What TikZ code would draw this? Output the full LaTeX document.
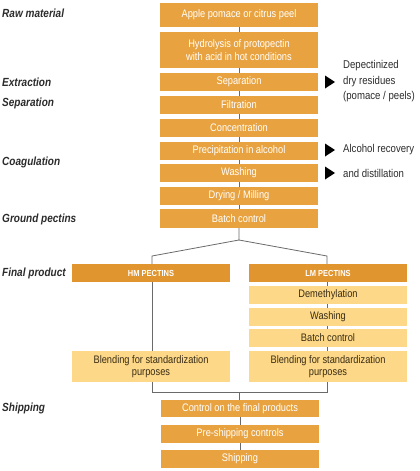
\documentclass[tikz,border=0pt]{standalone}
\usepackage{fontspec}
\setmainfont{Liberation Sans}[FakeStretch=0.85]
\usetikzlibrary{backgrounds}
\definecolor{mainor}{HTML}{E8A340}
\definecolor{hdor}{HTML}{E0952F}
\definecolor{lightor}{HTML}{FCD888}
\definecolor{linegray}{HTML}{6A6A6A}
\definecolor{txtdark}{HTML}{3A2C14}
\definecolor{lbl}{HTML}{2B2B2B}
\begin{document}
\begin{tikzpicture}[x=1pt,y=-1pt,
 box/.style={fill=mainor, text=white, minimum width=158pt, inner sep=0pt, align=center, font=\fontsize{10.9}{12.5}\selectfont},
 hdbox/.style={box, fill=hdor, font=\fontsize{8.8}{10}\selectfont\bfseries},
 lbox/.style={box, fill=lightor, text=txtdark},
 conn/.style={draw=linegray, line width=0.8pt},
 side/.style={anchor=west, text=lbl, font=\fontsize{11.8}{13}\selectfont\bfseries\itshape, inner sep=0pt},
 note/.style={anchor=west, text=lbl, align=left, font=\fontsize{11.3}{15.5}\selectfont, inner sep=0pt},
 tri/.style={fill=black}
]
\useasboundingbox (0,0) rectangle (420,471);

% main column
\node[box, minimum height=24pt] (apple) at (239,15) {Apple pomace or citrus peel};
\node[box, minimum height=36pt] (hyd) at (239,50) {Hydrolysis of protopectin\\with acid in hot conditions};
\node[box, minimum height=18pt] (sep) at (239,82) {Separation};
\node[box, minimum height=18pt] (fil) at (239,105) {Filtration};
\node[box, minimum height=18pt] (conc) at (239,128) {Concentration};
\node[box, minimum height=18pt] (prec) at (239,150.5) {Precipitation in alcohol};
\node[box, minimum height=18pt] (wash) at (239,173) {Washing};
\node[box, minimum height=18pt] (dry) at (239,195.5) {Drying / Milling};
\node[box, minimum height=19pt] (batch) at (239,218.5) {Batch control};

% branches
\node[hdbox, minimum height=18pt] (hm) at (151,273) {HM PECTINS};
\node[hdbox, minimum height=18pt] (lm) at (328,273) {LM PECTINS};
\node[lbox, minimum height=18pt] (demeth) at (328,295) {Demethylation};
\node[lbox, minimum height=18pt] (lwash) at (328,317) {Washing};
\node[lbox, minimum height=18pt] (lbatch) at (328,338) {Batch control};
\node[lbox, minimum height=31pt] (lblend) at (328,366.5) {Blending for standardization\\purposes};
\node[lbox, minimum height=31pt] (hblend) at (151,366.5) {Blending for standardization\\purposes};

% shipping column
\node[box, minimum height=17pt] (ctrl) at (240,408.5) {Control on the final products};
\node[box, minimum height=18pt] (presh) at (240,434) {Pre-shipping controls};
\node[box, minimum height=18pt] (ship) at (240,459) {Shipping};

% side labels
\node[side] (l1) at (2,13) {Raw material};
\node[side] (l2) at (2,82) {Extraction};
\node[side] (l3) at (2,103) {Separation};
\node[side] (l4) at (2,162) {Coagulation};
\node[side] (l5) at (2,219) {Ground pectins};
\node[side] (l6) at (2,273) {Final product};
\node[side] (l7) at (2,408) {Shipping};

% notes
\node[note] (n1) at (343,81.5) {Depectinized\\dry residues\\(pomace / peels)};
\node[note] (n2) at (343,150) {Alcohol recovery};
\node[note] (n3) at (343,173) {and distillation};
\fill[tri] (325,75.5) -- (335,82) -- (325,88.5) -- cycle;
\fill[tri] (325,143.5) -- (335,150) -- (325,156.5) -- cycle;
\fill[tri] (325,166.5) -- (335,173) -- (325,179.5) -- cycle;

% connectors
\coordinate (top) at (239,240);
\coordinate (lt) at (152,256);
\coordinate (rt) at (327,256);
\coordinate (join) at (239,392);
\begin{scope}[on background layer]
\draw[conn] (apple.center) -- (batch.center);
\draw[conn] (batch.south) -- (top) -- (lt) -- (lt |- hm.north);
\draw[conn] (top) -- (rt) -- (rt |- lm.north);
\draw[conn] (lt |- hm.south) -- (lt |- hblend.north);
\draw[conn] (rt |- lm.center) -- (rt |- lblend.center);
\draw[conn] (lt |- hblend.south) -- (lt |- join) -- (rt |- join) -- (rt |- lblend.south);
\draw[conn] (join) -- (join |- ctrl.north);
\draw[conn] (ctrl.center) -- (ship.center);
\end{scope}
\end{tikzpicture}
\end{document}
